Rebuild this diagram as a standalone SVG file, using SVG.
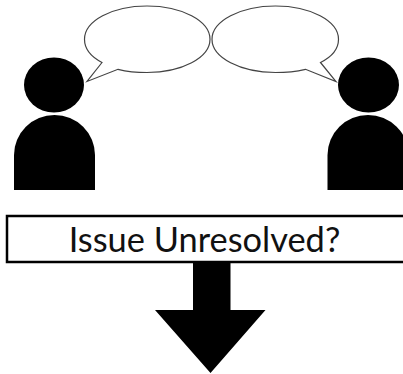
<svg xmlns="http://www.w3.org/2000/svg" width="403" height="374" viewBox="0 0 403 374">
<style>
.bubble{fill:#fff;stroke:#444;stroke-width:1.2;stroke-linejoin:miter}
.fig{fill:#000}
.label{font-family:"Lato","Carlito","Open Sans",sans-serif;font-size:34.400px;fill:#111;text-anchor:middle}
</style>
<rect width="403" height="374" fill="#fff"/>
<g id="person-left">
<ellipse class="fig" cx="54" cy="85" rx="30" ry="27.5"/>
<path class="fig" d="M14 190V155A40.500 40 0 0 1 95 155V190Z"/>
</g>
<g id="person-right">
<ellipse class="fig" cx="368.500" cy="85" rx="30.500" ry="27.500"/>
<path class="fig" d="M327.500 190V155A40.500 40 0 0 1 408.500 155V190Z"/>
</g>
<g id="bubble-left">
<path class="bubble" d="M102 62.500L87 81.500L118 69.300C127 71.500 137 72.500 147 72.500C182 72.500 210 57.700 210 39.300C210 21 182 6 147 6C112 6 84.500 21 84.500 39.300C84.500 48.500 91 56.800 102 62.500Z"/>
</g>
<g id="bubble-right">
<path class="bubble" d="M320.500 62.500L336 81.500L305.500 69.300C296 71.500 286 72.500 275.500 72.500C240.500 72.500 212 57.700 212 39.300C212 21 240.500 6 275.500 6C310.500 6 338.500 21 338.500 39.300C338.500 48.500 332 56.800 320.500 62.500Z"/>
</g>
<g id="issue-box">
<rect x="7" y="216" width="400" height="46" fill="#fff" stroke="#000" stroke-width="2.500"/>
<text class="label" x="204.500" y="252">Issue Unresolved?</text>
</g>
<g id="connectors">
<path class="fig" d="M193 263H230.500V310H265.500L210.500 373L155 310H193Z"/>
</g>
</svg>
